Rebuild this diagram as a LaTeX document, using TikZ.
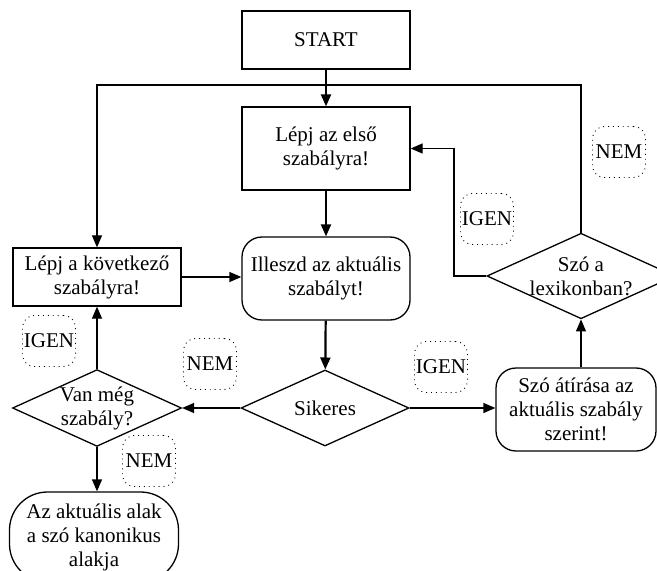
\documentclass[tikz,border=0pt]{standalone}
\usepackage{fontspec}
\setmainfont{Liberation Serif}
\usetikzlibrary{shapes.geometric,arrows.meta}

\tikzset{
  base/.style={draw, line width=0.65pt, align=center, inner sep=1pt,
    font=\fontsize{10.5pt}{12pt}\selectfont},
  plainbox/.style={base, rectangle, minimum width=84pt},
  roundbox/.style={base, rectangle, rounded corners=10pt},
  decision/.style={base, diamond, aspect=2.2, inner sep=0pt,
    minimum width=84pt, minimum height=38pt},
  answer/.style={draw, dotted, line width=0.45pt, rectangle, rounded corners=6pt,
    inner sep=0pt, minimum width=26.5pt, minimum height=25.5pt,
    font=\fontsize{10.5pt}{12pt}\selectfont},
  flow/.style={line width=0.65pt, -{Triangle[length=6pt,width=5pt]}},
  mainflow/.style={line width=1.1pt, -{Triangle[length=6pt,width=5pt]}}
}

\begin{document}
\begin{tikzpicture}[x=0.5pt, y=-0.5pt]
  \useasboundingbox (0,0) rectangle (657,571);
  \clip (0,0) rectangle (657,571);

  % process steps
  \node[plainbox, minimum height=29pt] (start) at (326,40) {START};
  \node[plainbox, minimum height=41.5pt] (first) at (326,148.5) {Lépj az első\\szabályra!};
  \node[roundbox, minimum width=84pt, minimum height=41.5pt] (match) at (326,278.5) {Illeszd az aktuális\\szabályt!};
  \node[plainbox, minimum height=29pt] (next) at (97,277) {Lépj a következő\\szabályra!};
  \node[decision] (succ) at (325,408) {Sikeres};
  \node[decision] (more) at (97,408) {Van még\\szabály?};
  \node[roundbox, rounded corners=19pt, minimum width=84.5pt, minimum height=45pt] (final) at (94,537) {Az aktuális alak\\a szó kanonikus\\alakja};
  \node[roundbox, minimum width=80pt, minimum height=41.5pt] (change) at (576,409.5) {Szó átírása az\\aktuális szabály\\szerint!};
  \node[decision, minimum width=83pt] (lex) at (581,276) {Szó a\\lexikonban?};

  % answer tags
  \node[answer] (tagA) at (619,152) {NEM};
  \node[answer] (tagB) at (487,219) {IGEN};
  \node[answer] (tagC) at (49,341) {IGEN};
  \node[answer] (tagD) at (210,364) {NEM};
  \node[answer] (tagE) at (441,367) {IGEN};
  \node[answer] (tagF) at (149,461) {NEM};

  % routing points
  \coordinate (topbar) at (326,85);
  \coordinate (igenbend) at (454,276);

  % connectors
  \draw[mainflow] (start) -- (first);
  \draw[mainflow] (first) -- (match);
  \draw[mainflow] (match) -- (succ);
  \draw[flow] (next.east) -- (next.east -| match.west);
  \draw[flow] (succ.west) -- (more.east);
  \draw[flow] (succ.east) -- (succ.east -| change.west);
  \draw[flow] (more.north) -- (next.south);
  \draw[flow] (more.south) -- (more.south |- final.north);
  \draw[flow] (lex.south |- change.north) -- (lex.south);
  \draw[flow] (lex.west) -- (igenbend) |- (first.east);
  \draw[flow] (lex.north) |- (topbar) -| (next.north);
\end{tikzpicture}
\end{document}
